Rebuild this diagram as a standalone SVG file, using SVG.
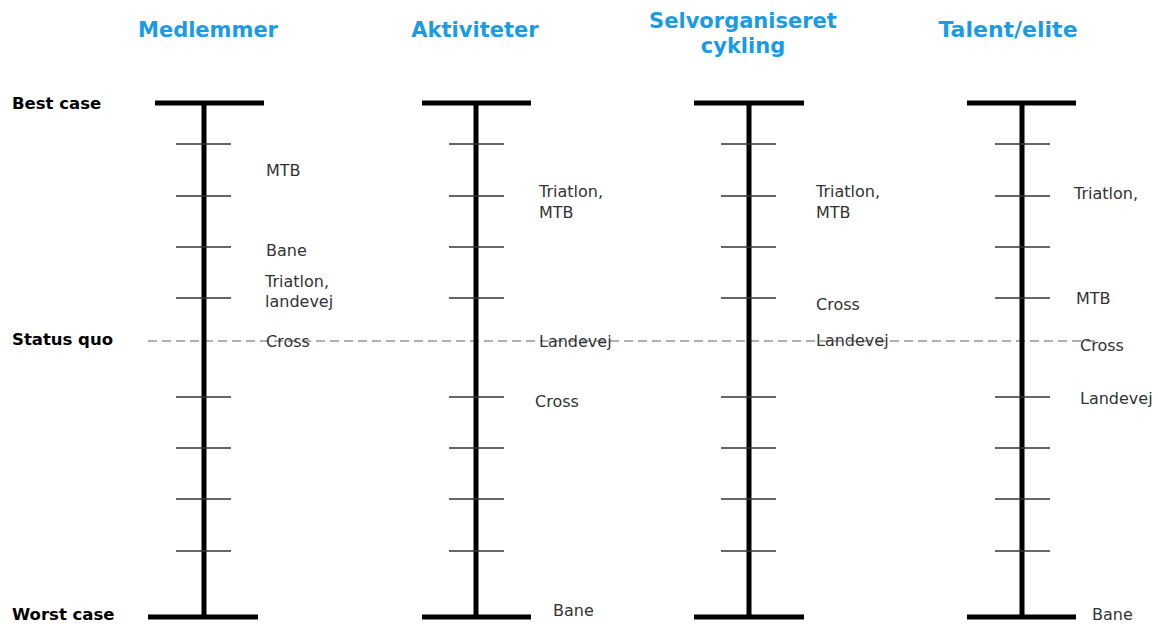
<svg xmlns="http://www.w3.org/2000/svg" width="1158" height="624" viewBox="0 0 1158 624">
<style>
.hdr{font-family:"DejaVu Sans",Verdana,sans-serif;font-weight:bold;font-size:21px;fill:#1a9be6;text-anchor:middle}
.side{font-family:"DejaVu Sans",Verdana,sans-serif;font-weight:bold;font-size:16.5px;fill:#000}
.lbl{font-family:"DejaVu Sans",Verdana,sans-serif;font-size:16px;fill:#333}
.axis{stroke:#000;stroke-width:5;fill:none}
.tick{stroke:#333;stroke-width:1.3}
.sq{stroke:#b0b0b0;stroke-width:2;stroke-dasharray:9 5;fill:none}
</style>
<rect width="1158" height="624" fill="#fff"/>
<g id="side-labels">
<text class="side" x="12" y="109">Best case</text>
<text class="side" x="12" y="345">Status quo</text>
<text class="side" x="12" y="620">Worst case</text>
</g>
<g id="connectors">
<line class="sq" x1="148" y1="341" x2="1096" y2="341"/>
</g>
<g id="col-medlemmer">
<text class="hdr" x="208" y="37">Medlemmer</text>
<line class="axis" x1="204" y1="103" x2="204" y2="617"/>
<line class="axis" x1="155" y1="103" x2="264" y2="103"/>
<line class="axis" x1="148" y1="617" x2="258" y2="617"/>
<g class="tick"><line x1="176" y1="144" x2="231" y2="144"/><line x1="176" y1="196" x2="231" y2="196"/><line x1="176" y1="247" x2="231" y2="247"/><line x1="176" y1="298" x2="231" y2="298"/><line x1="176" y1="397" x2="231" y2="397"/><line x1="176" y1="448" x2="231" y2="448"/><line x1="176" y1="499" x2="231" y2="499"/><line x1="176" y1="551" x2="231" y2="551"/></g>
<text class="lbl" x="266" y="176">MTB</text>
<text class="lbl" x="266" y="256">Bane</text>
<text class="lbl" x="265" y="287">Triatlon,</text>
<text class="lbl" x="265" y="307">landevej</text>
<text class="lbl" x="266" y="347">Cross</text>
</g>
<g id="col-aktiviteter">
<text class="hdr" x="475" y="37">Aktiviteter</text>
<line class="axis" x1="476" y1="103" x2="476" y2="617"/>
<line class="axis" x1="422" y1="103" x2="531" y2="103"/>
<line class="axis" x1="422" y1="617" x2="531" y2="617"/>
<g class="tick"><line x1="449" y1="144" x2="504" y2="144"/><line x1="449" y1="196" x2="504" y2="196"/><line x1="449" y1="247" x2="504" y2="247"/><line x1="449" y1="298" x2="504" y2="298"/><line x1="449" y1="397" x2="504" y2="397"/><line x1="449" y1="448" x2="504" y2="448"/><line x1="449" y1="499" x2="504" y2="499"/><line x1="449" y1="551" x2="504" y2="551"/></g>
<text class="lbl" x="539" y="197">Triatlon,</text>
<text class="lbl" x="539" y="218">MTB</text>
<text class="lbl" x="539" y="347">Landevej</text>
<text class="lbl" x="535" y="407">Cross</text>
<text class="lbl" x="553" y="616">Bane</text>
</g>
<g id="col-selvorganiseret">
<text class="hdr" x="743" y="28">Selvorganiseret</text>
<text class="hdr" x="743" y="53">cykling</text>
<line class="axis" x1="749" y1="103" x2="749" y2="617"/>
<line class="axis" x1="694" y1="103" x2="804" y2="103"/>
<line class="axis" x1="694" y1="617" x2="804" y2="617"/>
<g class="tick"><line x1="721" y1="144" x2="776" y2="144"/><line x1="721" y1="196" x2="776" y2="196"/><line x1="721" y1="247" x2="776" y2="247"/><line x1="721" y1="298" x2="776" y2="298"/><line x1="721" y1="397" x2="776" y2="397"/><line x1="721" y1="448" x2="776" y2="448"/><line x1="721" y1="499" x2="776" y2="499"/><line x1="721" y1="551" x2="776" y2="551"/></g>
<text class="lbl" x="816" y="197">Triatlon,</text>
<text class="lbl" x="816" y="218">MTB</text>
<text class="lbl" x="816" y="310">Cross</text>
<text class="lbl" x="816" y="346">Landevej</text>
</g>
<g id="col-talent">
<text class="hdr" x="1008" y="37" style="font-size:22px">Talent/elite</text>
<line class="axis" x1="1022" y1="103" x2="1022" y2="617"/>
<line class="axis" x1="967" y1="103" x2="1076" y2="103"/>
<line class="axis" x1="967" y1="617" x2="1076" y2="617"/>
<g class="tick"><line x1="995" y1="144" x2="1050" y2="144"/><line x1="995" y1="196" x2="1050" y2="196"/><line x1="995" y1="247" x2="1050" y2="247"/><line x1="995" y1="298" x2="1050" y2="298"/><line x1="995" y1="397" x2="1050" y2="397"/><line x1="995" y1="448" x2="1050" y2="448"/><line x1="995" y1="499" x2="1050" y2="499"/><line x1="995" y1="551" x2="1050" y2="551"/></g>
<text class="lbl" x="1074" y="199">Triatlon,</text>
<text class="lbl" x="1076" y="304">MTB</text>
<text class="lbl" x="1080" y="351">Cross</text>
<text class="lbl" x="1080" y="404">Landevej</text>
<text class="lbl" x="1092" y="620">Bane</text>
</g>
</svg>
